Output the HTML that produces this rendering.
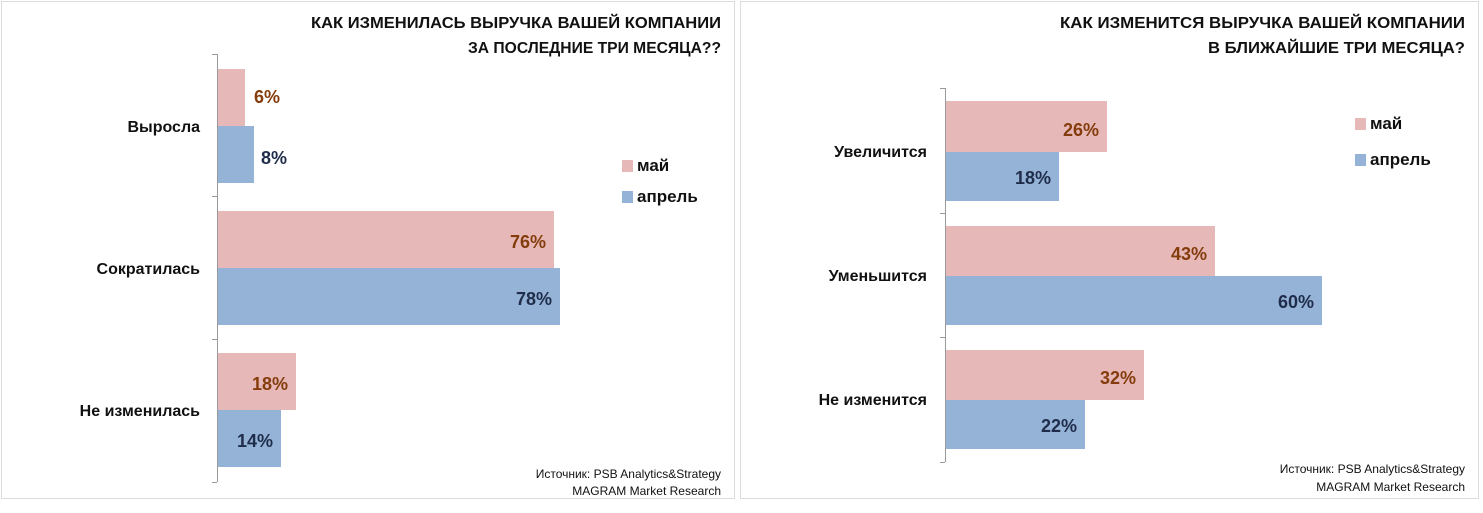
<!DOCTYPE html>
<html><head><meta charset="utf-8"><style>
body{margin:0;background:#fff;width:1483px;height:508px;overflow:hidden;font-family:"Liberation Sans",sans-serif}
</style></head><body>
<svg width="1483" height="508" xmlns="http://www.w3.org/2000/svg" font-family="Liberation Sans, sans-serif">
<rect x="0" y="0" width="1483" height="508" fill="#fff"/>
<rect x="1.5" y="1.5" width="733" height="497" fill="#fff" stroke="#dcdcdc"/>
<rect x="740.5" y="1.5" width="738" height="497" fill="#fff" stroke="#dcdcdc"/>
<g font-weight="bold" font-size="16" fill="#111" text-anchor="end">
<text x="721" y="28" textLength="410" lengthAdjust="spacingAndGlyphs">КАК ИЗМЕНИЛАСЬ ВЫРУЧКА ВАШЕЙ КОМПАНИИ</text>
<text x="721" y="53" textLength="253" lengthAdjust="spacingAndGlyphs">ЗА ПОСЛЕДНИЕ ТРИ МЕСЯЦА??</text>
<text x="1465" y="28" textLength="405" lengthAdjust="spacingAndGlyphs">КАК ИЗМЕНИТСЯ ВЫРУЧКА ВАШЕЙ КОМПАНИИ</text>
<text x="1465" y="53" textLength="257" lengthAdjust="spacingAndGlyphs">В БЛИЖАЙШИЕ ТРИ МЕСЯЦА?</text>
</g>
<g stroke="#999" stroke-width="1">
<line x1="217.5" y1="54" x2="217.5" y2="482"/>
<line x1="212" y1="54.5" x2="217" y2="54.5"/><line x1="212" y1="196.5" x2="217" y2="196.5"/>
<line x1="212" y1="339.5" x2="217" y2="339.5"/><line x1="212" y1="482.5" x2="217" y2="482.5"/>
<line x1="945.5" y1="88" x2="945.5" y2="462"/>
<line x1="940" y1="88.5" x2="945" y2="88.5"/><line x1="940" y1="213.5" x2="945" y2="213.5"/>
<line x1="940" y1="337.5" x2="945" y2="337.5"/><line x1="940" y1="462.5" x2="945" y2="462.5"/>
</g>
<g fill="#e6b9b8">
<rect x="218" y="69" width="27" height="57"/>
<rect x="218" y="211" width="336" height="57"/>
<rect x="218" y="353" width="78" height="57"/>
<rect x="946" y="101" width="161" height="51"/>
<rect x="946" y="226" width="269" height="50"/>
<rect x="946" y="350" width="198" height="50"/>
</g>
<g fill="#95b3d7">
<rect x="218" y="126" width="36" height="57"/>
<rect x="218" y="268" width="342" height="57"/>
<rect x="218" y="410" width="63" height="57"/>
<rect x="946" y="152" width="113" height="49"/>
<rect x="946" y="276" width="376" height="49"/>
<rect x="946" y="400" width="139" height="49"/>
</g>
<g font-weight="bold" font-size="18">
<g fill="#843c0c">
<text x="254" y="103">6%</text>
<text x="546" y="248" text-anchor="end">76%</text>
<text x="288" y="390" text-anchor="end">18%</text>
<text x="1099" y="136" text-anchor="end">26%</text>
<text x="1207" y="260" text-anchor="end">43%</text>
<text x="1136" y="384" text-anchor="end">32%</text>
</g>
<g fill="#1f2d4a">
<text x="261" y="164">8%</text>
<text x="552" y="305" text-anchor="end">78%</text>
<text x="273" y="447" text-anchor="end">14%</text>
<text x="1051" y="184" text-anchor="end">18%</text>
<text x="1314" y="308" text-anchor="end">60%</text>
<text x="1077" y="432" text-anchor="end">22%</text>
</g>
</g>
<g font-weight="bold" font-size="16" fill="#111" text-anchor="end">
<text x="200" y="132">Выросла</text>
<text x="200" y="274">Сократилась</text>
<text x="200" y="416">Не изменилась</text>
<text x="927" y="157">Увеличится</text>
<text x="927" y="281">Уменьшится</text>
<text x="927" y="405">Не изменится</text>
</g>
<g font-weight="bold" font-size="17" fill="#111">
<rect x="622" y="160" width="11" height="12" fill="#e6b9b8"/><text x="637" y="171">май</text>
<rect x="622" y="191" width="11" height="12" fill="#95b3d7"/><text x="637" y="202">апрель</text>
<rect x="1355" y="118" width="11" height="12" fill="#e6b9b8"/><text x="1370" y="129">май</text>
<rect x="1355" y="154" width="11" height="12" fill="#95b3d7"/><text x="1370" y="165">апрель</text>
</g>
<g font-size="12" fill="#111" text-anchor="end">
<text x="721" y="478">Источник: PSB Analytics&amp;Strategy</text>
<text x="721" y="495">MAGRAM Market Research</text>
<text x="1465" y="473">Источник: PSB Analytics&amp;Strategy</text>
<text x="1465" y="491">MAGRAM Market Research</text>
</g>
</svg>
</body></html>
